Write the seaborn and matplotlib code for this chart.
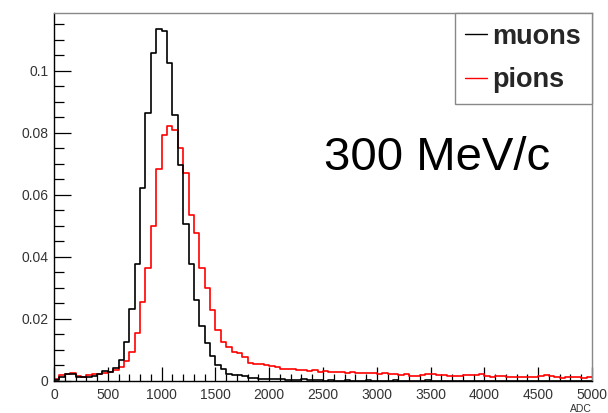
import numpy as np
import pandas as pd
import matplotlib
matplotlib.use("Agg")
import matplotlib.pyplot as plt
import seaborn as sns
from matplotlib.lines import Line2D
from matplotlib.ticker import MultipleLocator, FuncFormatter

# ---- data (fraction per 50-ADC bin) ----
bin_width = 50
adc_range = (0, 5000)
species = ["muons", "pions"]
muons = [
    0.0003, 0.0012, 0.0021, 0.0020, 0.0012, 0.0011, 0.0013, 0.0014, 0.0020, 0.0030,
    0.0028, 0.0042, 0.0067, 0.0126, 0.0232, 0.0377, 0.0621, 0.0864, 0.1056, 0.1135,
    0.1128, 0.1026, 0.0856, 0.0695, 0.0505, 0.0375, 0.0260, 0.0176, 0.0123, 0.0080,
    0.0051, 0.0037, 0.0022, 0.0018, 0.0017, 0.0014, 0.0010, 0.0008, 0.0006, 0.0005,
    0.0005, 0.0004, 0.0004, 0.0003, 0.0002, 0.0001, 0.0004, 0.0003, 0.0001, 0.0001,
    0.0000, 0.0001, 0.0000, 0.0000, 0.0001, 0.0000, 0.0000, 0.0000, 0.0001, 0.0000,
    0.0000, 0.0000, 0.0000, 0.0001, 0.0000, 0.0000, 0.0000, 0.0000, 0.0000, 0.0001,
    0.0000, 0.0000, 0.0000, 0.0000, 0.0000, 0.0000, 0.0000, 0.0000, 0.0000, 0.0000,
    0.0000, 0.0000, 0.0000, 0.0000, 0.0000, 0.0000, 0.0000, 0.0000, 0.0000, 0.0000,
    0.0000, 0.0000, 0.0000, 0.0000, 0.0000, 0.0000, 0.0000, 0.0000, 0.0000, 0.0000,
]
pions = [
    0.0005, 0.0018, 0.0021, 0.0024, 0.0016, 0.0013, 0.0018, 0.0022, 0.0021, 0.0025,
    0.0028, 0.0033, 0.0043, 0.0062, 0.0091, 0.0153, 0.0255, 0.0363, 0.0499, 0.0682,
    0.0793, 0.0823, 0.0808, 0.0751, 0.0669, 0.0535, 0.0476, 0.0363, 0.0298, 0.0228,
    0.0164, 0.0126, 0.0108, 0.0094, 0.0088, 0.0077, 0.0056, 0.0055, 0.0053, 0.0050,
    0.0047, 0.0045, 0.0039, 0.0038, 0.0037, 0.0036, 0.0033, 0.0030, 0.0033, 0.0029,
    0.0030, 0.0028, 0.0027, 0.0027, 0.0026, 0.0027, 0.0025, 0.0024, 0.0024, 0.0024,
    0.0023, 0.0024, 0.0023, 0.0023, 0.0018, 0.0020, 0.0014, 0.0016, 0.0018, 0.0020,
    0.0021, 0.0017, 0.0019, 0.0016, 0.0016, 0.0016, 0.0017, 0.0017, 0.0018, 0.0020,
    0.0014, 0.0013, 0.0014, 0.0016, 0.0013, 0.0013, 0.0013, 0.0013, 0.0013, 0.0013,
    0.0014, 0.0017, 0.0015, 0.0012, 0.0009, 0.0011, 0.0011, 0.0011, 0.0009, 0.0013,
]
x_ticks = [0, 500, 1000, 1500, 2000, 2500, 3000, 3500, 4000, 4500, 5000]
y_ticks = [0, 0.02, 0.04, 0.06, 0.08, 0.1]
annotation = "300 MeV/c"
x_title = "ADC"

n_bins = len(muons)
centers = adc_range[0] + bin_width * (np.arange(n_bins) + 0.5)
df = pd.DataFrame({
    "adc": np.concatenate([centers, centers]),
    "frac": np.concatenate([muons, pions]),
    "particle": np.repeat(species, n_bins),
})

sns.set_style("ticks")
plt.rcParams["font.family"] = ["Liberation Sans", "DejaVu Sans"]

fig = plt.figure(figsize=(6.08, 4.13), dpi=100)
ax = fig.add_axes([54 / 608, 1 - 380.7 / 413, (592 - 54) / 608, (380.7 - 13) / 413])

colors = {"muons": "black", "pions": "#ff0000"}
sns.histplot(data=df, x="adc", weights="frac", hue="particle",
             binwidth=bin_width, binrange=adc_range,
             element="step", fill=False, palette=colors, linewidth=1.2,
             legend=False, ax=ax)

ax.set_xlim(*adc_range)
ax.set_ylim(0, 0.1186)
ax.set_ylabel("")
ax.set_xlabel(x_title, loc="right", fontsize=7.5, color="#333333", labelpad=2)

ax.set_xticks(x_ticks)
ax.set_yticks(y_ticks)
ax.xaxis.set_minor_locator(MultipleLocator(100))
ax.yaxis.set_minor_locator(MultipleLocator(0.005))
ax.yaxis.set_major_formatter(FuncFormatter(lambda v, p: "0" if v == 0 else f"{v:g}"))
ax.tick_params(axis="both", which="both", direction="in", colors="black",
               labelcolor="#333333", labelsize=10, width=0.9)
ax.tick_params(axis="y", which="major", length=12, pad=4)
ax.tick_params(axis="y", which="minor", length=7)
ax.tick_params(axis="x", which="major", length=10, pad=5)
ax.tick_params(axis="x", which="minor", length=5)

for side in ["top", "right"]:
    ax.spines[side].set_visible(True)
    ax.spines[side].set_color("#888888")
    ax.spines[side].set_linewidth(1.0)
for side in ["left", "bottom"]:
    ax.spines[side].set_color("black")
    ax.spines[side].set_linewidth(1.0)

handles = [Line2D([], [], color=colors[s], lw=1.0) for s in species]
leg = ax.legend(handles, species, loc="upper right", bbox_to_anchor=(1.0, 1.0),
                borderaxespad=0, frameon=True, fancybox=False, framealpha=1,
                edgecolor="#888888", prop={"weight": "bold", "size": 19.5},
                handlelength=0.8, handletextpad=0.2, borderpad=0.4,
                labelspacing=0.65)
leg.get_frame().set_linewidth(1.0)

fig.text(437 / 608, 1 - 158 / 413, annotation, fontsize=34, ha="center",
         va="center", color="black")

fig.savefig("out.png", dpi=100)
